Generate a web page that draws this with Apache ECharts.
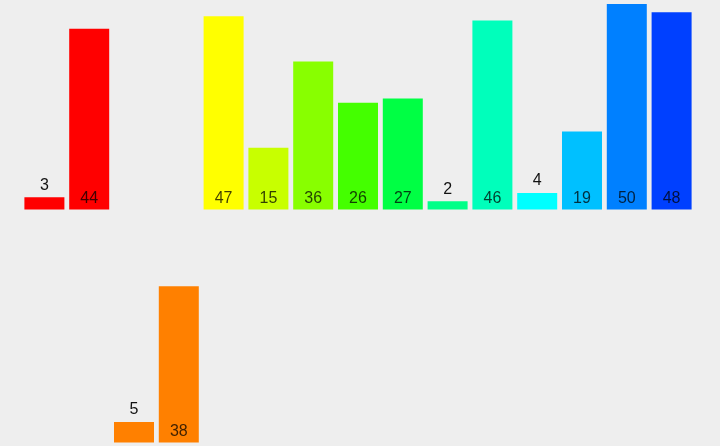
<!DOCTYPE html>
<html><head><meta charset="utf-8">
<script src="https://cdn.jsdelivr.net/npm/echarts@6/dist/echarts.min.js"></script>
<style>html,body{margin:0;padding:0;background:#eeeeee;}#c{width:720px;height:446px;}</style>
</head><body><div id="c"></div>
<script>
var categories = ['A','B','C','D','E','F','G','H','I','J','K','L','M','N','O'];
var topValues = [3, 44, null, null, 47, 15, 36, 26, 27, 2, 46, 4, 19, 50, 48];
var bottomValues = [null, null, 5, 38, null, null, null, null, null, null, null, null, null, null, null];
var barColors = ['#ff0000','#ff0000','#ff8000','#ff8000','#ffff00','#c8ff00','#88ff00','#44ff00','#00ff44','#00ff88','#00ffbb','#00ffff','#00c0ff','#0080ff','#0040ff'];
var smallThreshold = 10;

function build(vals){
  return vals.map(function(v,i){
    if (v === null) return null;
    var small = v < smallThreshold;
    return {
      value: v,
      itemStyle: {color: barColors[i]},
      label: {
        position: small ? 'top' : 'insideBottom',
        distance: small ? 4 : 3,
        color: small ? '#111' : 'rgba(0,0,0,0.75)'
      }
    };
  });
}
var chart = echarts.init(document.getElementById('c'));
chart.setOption({
  backgroundColor: '#eeeeee',
  animation: false,
  grid: [
    {left: 22, right: 26, top: 4, height: 205.5},
    {left: 22, right: 26, top: 237, height: 205.5}
  ],
  xAxis: [
    {type:'category', gridIndex:0, data: categories, show:false},
    {type:'category', gridIndex:1, data: categories, show:false}
  ],
  yAxis: [
    {type:'value', gridIndex:0, min:0, max:50, show:false},
    {type:'value', gridIndex:1, min:0, max:50, show:false}
  ],
  series: [
    {type:'bar', xAxisIndex:0, yAxisIndex:0, barWidth:40, data: build(topValues),
     label:{show:true, fontSize:16, fontFamily:'Liberation Sans, Arial, sans-serif'}},
    {type:'bar', xAxisIndex:1, yAxisIndex:1, barWidth:40, data: build(bottomValues),
     label:{show:true, fontSize:16, fontFamily:'Liberation Sans, Arial, sans-serif'}}
  ]
});
</script></body></html>
